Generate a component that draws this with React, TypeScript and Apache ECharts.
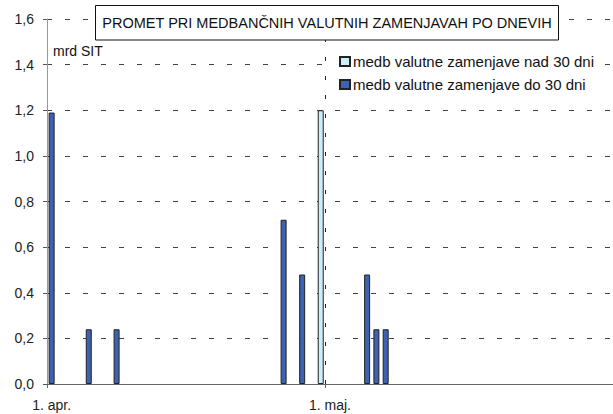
import React, { useEffect, useRef } from "react";
import * as echarts from "echarts";

// Days shown on the category axis (1 April – 31 May)
const monthNames = ["apr.", "maj."];
const monthLengths = [30, 31];
const categories: string[] = [];
monthNames.forEach((m, mi) => {
  for (let d = 1; d <= monthLengths[mi]; d++) categories.push(`${d}. ${m}`);
});

const labeledDates = ["1. apr.", "1. maj."];
const markerDate = "1. maj.";

// medb valutne zamenjave do 30 dni (mrd SIT)
const shortDates = ["1. apr.", "5. apr.", "8. apr.", "26. apr.", "28. apr.", "5. maj.", "6. maj.", "7. maj."];
const shortValues = [1.19, 0.24, 0.24, 0.72, 0.48, 0.48, 0.24, 0.24];

// medb valutne zamenjave nad 30 dni (mrd SIT)
const longDates = ["30. apr."];
const longValues = [1.2];

const seriesNames = ["medb valutne zamenjave nad 30 dni", "medb valutne zamenjave do 30 dni"];
const titleText = "PROMET PRI MEDBANČNIH VALUTNIH ZAMENJAVAH PO DNEVIH";
const unitText = "mrd SIT";

const FONT = "'Liberation Sans', Arial, sans-serif";

function toSeries(dates: string[], values: number[]) {
  return categories.map((c) => {
    const i = dates.indexOf(c);
    return i >= 0 ? values[i] : null;
  });
}

export default function App() {
  const ref = useRef<HTMLDivElement>(null);
  useEffect(() => {
    if (!ref.current) return;
    const chart = echarts.init(ref.current, undefined, { renderer: "svg" });
    const showIdx = (index: number) => labeledDates.includes(categories[index]);
    // start of the 1 May day band, in day units on a hidden linear axis
    const markerPos = categories.indexOf(markerDate);
    chart.setOption({
      animation: false,
      backgroundColor: "#fff",
      textStyle: { fontFamily: FONT },
      grid: { left: 47, top: 19, width: 567, height: 365, containLabel: false },
      legend: {
        orient: "vertical",
        left: 334,
        top: 49,
        padding: [5, 6, 5, 5],
        backgroundColor: "#fff",
        itemWidth: 10,
        itemHeight: 9,
        itemGap: 8,
        selectedMode: false,
        icon: "rect",
        textStyle: { fontSize: 15, color: "#111", fontFamily: FONT, padding: [0, 0, 0, -2] },
        data: seriesNames,
      },
      xAxis: [
        {
          type: "category",
          data: categories,
          boundaryGap: true,
          axisLine: { show: true, lineStyle: { color: "#666", width: 1 } },
          axisTick: { show: true, interval: showIdx, length: 4, lineStyle: { color: "#666" } },
          axisLabel: {
            interval: showIdx,
            margin: 14,
            fontSize: 14,
            color: "#222",
            fontFamily: FONT,
          },
          splitLine: { show: false },
        },
        {
          type: "value",
          min: 0,
          max: categories.length,
          show: false,
          splitLine: { show: false },
        },
      ],
      yAxis: {
        type: "value",
        min: 0,
        max: 1.6,
        interval: 0.2,
        axisLine: { show: true, lineStyle: { color: "#999", width: 1 } },
        axisTick: { show: true, length: 4, lineStyle: { color: "#555" } },
        axisLabel: {
          margin: 13,
          fontSize: 14,
          color: "#222",
          fontFamily: FONT,
          formatter: (v: number) => v.toFixed(1).replace(".", ","),
        },
        splitLine: { show: true, lineStyle: { color: "#444", type: [5, 13], width: 1 } },
      },
      series: [
        {
          name: seriesNames[0],
          type: "bar",
          stack: "all",
          barWidth: 6,
          data: toSeries(longDates, longValues),
          itemStyle: { color: "#CCEEFB", borderColor: "#222", borderWidth: 1 },
        },
        {
          name: seriesNames[1],
          type: "bar",
          stack: "all",
          barWidth: 6,
          data: toSeries(shortDates, shortValues),
          itemStyle: { color: "#3D62B2", borderColor: "#222", borderWidth: 1 },
        },
        {
          name: "marker",
          type: "line",
          xAxisIndex: 1,
          data: [],
          showSymbol: false,
          silent: true,
          markLine: {
            silent: true,
            symbol: ["none", "none"],
            label: { show: false },
            lineStyle: { color: "#222", type: [4, 15], width: 1 },
            data: [{ xAxis: markerPos }],
          },
        },
      ],
      graphic: [
        {
          type: "rect",
          z: 100,
          shape: { x: 95.5, y: 5.5, width: 463, height: 34.5 },
          style: { fill: "#fff", stroke: "#111", lineWidth: 1 },
        },
        {
          type: "text",
          z: 101,
          x: 327,
          y: 23,
          style: {
            text: titleText,
            fill: "#111",
            font: `14.5px ${FONT}`,
            align: "center",
            verticalAlign: "middle",
          },
        },
        {
          type: "text",
          z: 101,
          x: 53,
          y: 51,
          style: {
            text: unitText,
            fill: "#111",
            font: `14px ${FONT}`,
            align: "left",
            verticalAlign: "middle",
          },
        },
      ],
    });
    return () => chart.dispose();
  }, []);
  return (
    <div
      ref={ref}
      style={{ position: "fixed", left: 0, top: 0, width: 613, height: 414, background: "#fff" }}
    />
  );
}
